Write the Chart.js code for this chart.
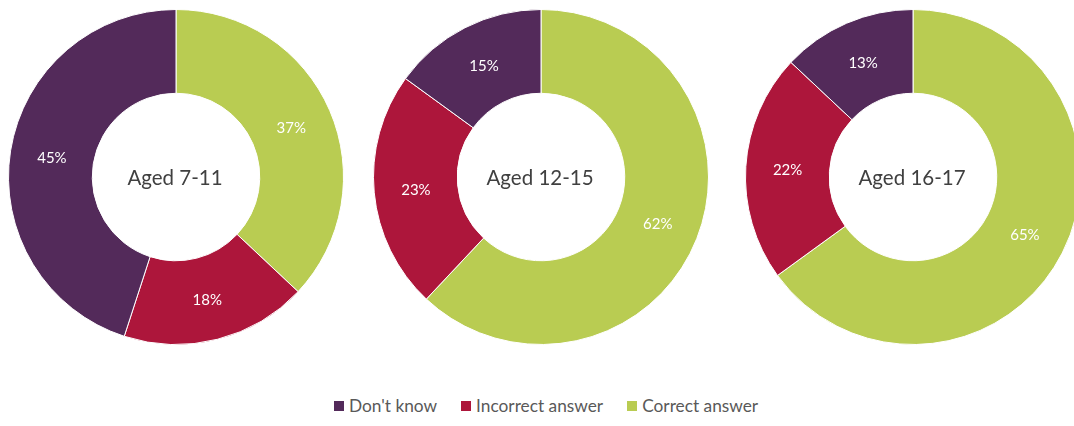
<!DOCTYPE html>
<html>
<head>
<meta charset="utf-8">
<script src="https://cdn.jsdelivr.net/npm/chart.js@4/dist/chart.umd.min.js"></script>
<style>
  html, body { margin:0; padding:0; background:#fff; width:1074px; height:426px; overflow:hidden; }
  .wrap { position:absolute; width:336px; height:336px; top:9px; }
  .legend { position:absolute; top:395px; left:334px; display:flex; align-items:center; font-family:Lato, "Liberation Sans", sans-serif; font-size:17.3px; color:#595959; white-space:nowrap; }
  .legend span.sw { display:inline-block; width:10px; height:10px; margin-right:5px; }
  .legend .item { display:flex; align-items:center; margin-right:24px; }
</style>
</head>
<body>
<div class="wrap" style="left:8px"><canvas id="c1" width="336" height="336"></canvas></div>
<div class="wrap" style="left:373px"><canvas id="c2" width="336" height="336"></canvas></div>
<div class="wrap" style="left:745px"><canvas id="c3" width="336" height="336"></canvas></div>
<div class="legend" id="legend"></div>
<script>
// Draw order (clockwise from top)
const categories = ["Correct answer", "Incorrect answer", "Don't know"];
const colors = ["#B9CC52", "#AD163B", "#532A5A"];
const groupTitles = ["Aged 7-11", "Aged 12-15", "Aged 16-17"];
const aged7to11 = [37, 18, 45];
const aged12to15 = [62, 23, 15];
const aged16to17 = [65, 22, 13];
const legendOrder = ["Don't know", "Incorrect answer", "Correct answer"];

const labelPlugin = {
  id: 'sliceLabels',
  afterDatasetsDraw(chart) {
    const ctx = chart.ctx;
    const meta = chart.getDatasetMeta(0);
    const data = chart.data.datasets[0].data;
    ctx.save();
    ctx.font = '15px Lato, "Liberation Sans", sans-serif';
    ctx.fillStyle = '#ffffff';
    ctx.textAlign = 'center';
    ctx.textBaseline = 'middle';
    meta.data.forEach((arc, i) => {
      const p = arc.getCenterPoint();
      ctx.fillText(data[i] + '%', p.x, p.y + 1);
    });
    // center title
    const a = meta.data[0];
    ctx.font = '20.5px Lato, "Liberation Sans", sans-serif';
    ctx.fillStyle = '#404040';
    ctx.fillText(chart.options.plugins.centerTitle.text, a.x - 1, a.y + 1);
    ctx.restore();
  }
};

function makeChart(id, values, title) {
  new Chart(document.getElementById(id), {
    type: 'doughnut',
    data: {
      labels: categories,
      datasets: [{
        data: values,
        backgroundColor: colors,
        borderColor: '#ffffff',
        borderWidth: 1
      }]
    },
    options: {
      responsive: false,
      animation: false,
      cutout: '50%',
      layout: { padding: 0 },
      plugins: {
        legend: { display: false },
        tooltip: { enabled: false },
        centerTitle: { text: title }
      }
    },
    plugins: [labelPlugin]
  });
}

makeChart('c1', aged7to11, groupTitles[0]);
makeChart('c2', aged12to15, groupTitles[1]);
makeChart('c3', aged16to17, groupTitles[2]);

const leg = document.getElementById('legend');
legendOrder.forEach(name => {
  const idx = categories.indexOf(name);
  const item = document.createElement('div');
  item.className = 'item';
  const sw = document.createElement('span');
  sw.className = 'sw';
  sw.style.background = colors[idx];
  item.appendChild(sw);
  item.appendChild(document.createTextNode(name));
  leg.appendChild(item);
});
</script>
</body>
</html>
